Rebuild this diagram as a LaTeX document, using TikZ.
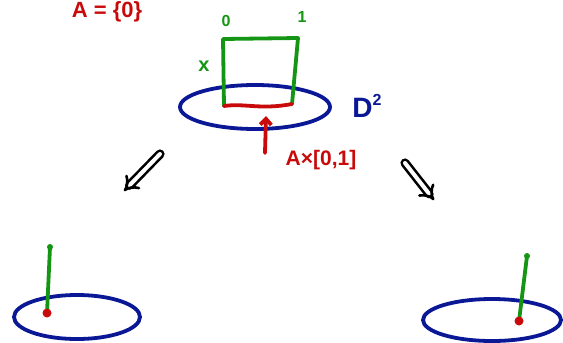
\documentclass[tikz,border=0pt]{standalone}
\usepackage{fontspec}
\setmainfont{Liberation Sans}
\usetikzlibrary{arrows.meta,shapes.geometric}
\definecolor{navy}{HTML}{0A1896}
\definecolor{hred}{HTML}{C80A0A}
\definecolor{hgreen}{HTML}{149614}
\begin{document}
\begin{tikzpicture}[x=1pt,y=-1pt,
  pen/.style={line width=3.8pt, line cap=round, line join=round},
  disc/.style={pen, draw=navy, ellipse, inner sep=0pt},
  lbl/.style={font=\bfseries\fontsize{16}{16}\selectfont, inner sep=1pt},
  dbl/.style={line width=2.6pt, double distance=4pt, draw=black, double=white, -{Implies}, line cap=round}]
\useasboundingbox (0,0) rectangle (563,343);
% top
\node[disc, minimum width=150pt, minimum height=44pt] (D) at (255,107) {};
\coordinate (sqBL) at (224,106);
\coordinate (sqBR) at (292,104);
\coordinate (sqTL) at (223,39);
\coordinate (sqTR) at (298,38);
\draw[pen, hgreen] (sqBL) -- (sqTL) -- (sqTR) -- (sqBR);
\draw[pen, hred] (sqBL) .. controls (245,103) and (260,110) .. (sqBR);
\node[lbl, text=hgreen] (zero) at (226,21) {0};
\node[lbl, text=hgreen] (one) at (302,17) {1};
\node[lbl, text=hgreen, font=\bfseries\fontsize{20}{20}\selectfont] (xl) at (204,66) {x};
\node[lbl, text=navy, font=\bfseries\fontsize{28}{28}\selectfont] (D2) at (367,106) {D\raisebox{0.45em}{\fontsize{16}{16}\selectfont 2}};
\node[lbl, text=hred, font=\bfseries\fontsize{21}{21}\selectfont] (AI) at (321,160) {A×[0,1]};
\coordinate (arrS) at (265,153);
\draw[pen, hred, -{Straight Barb[length=6pt,width=11pt]}] (arrS) -- (266,116);
\node[lbl, text=hred, font=\bfseries\fontsize{22}{22}\selectfont, anchor=north] (A0) at (107,0) {A = \{0\}};
% arrows
\coordinate (la1) at (160,154);
\coordinate (la2) at (124,191);
\coordinate (ra1) at (405,163);
\coordinate (ra2) at (434,200);
\draw[dbl] (la1) -- (la2);
\draw[dbl] (ra1) -- (ra2);
% bottom left
\node[disc, minimum width=126pt, minimum height=44pt] (DL) at (77,317) {};
\coordinate (gL) at (50,247);
\coordinate (rL) at (47,313);
\draw[pen, hgreen] (gL) -- (rL);
\fill[hgreen] (gL) circle (3pt);
\fill[hred] (rL) circle (4.5pt);
% bottom right
\node[disc, minimum width=138pt, minimum height=42pt] (DR) at (492,320) {};
\coordinate (gR) at (527,256);
\coordinate (rR) at (519,321);
\draw[pen, hgreen] (gR) -- (rR);
\fill[hgreen] (gR) circle (3pt);
\fill[hred] (rR) circle (4.5pt);
\end{tikzpicture}
\end{document}
